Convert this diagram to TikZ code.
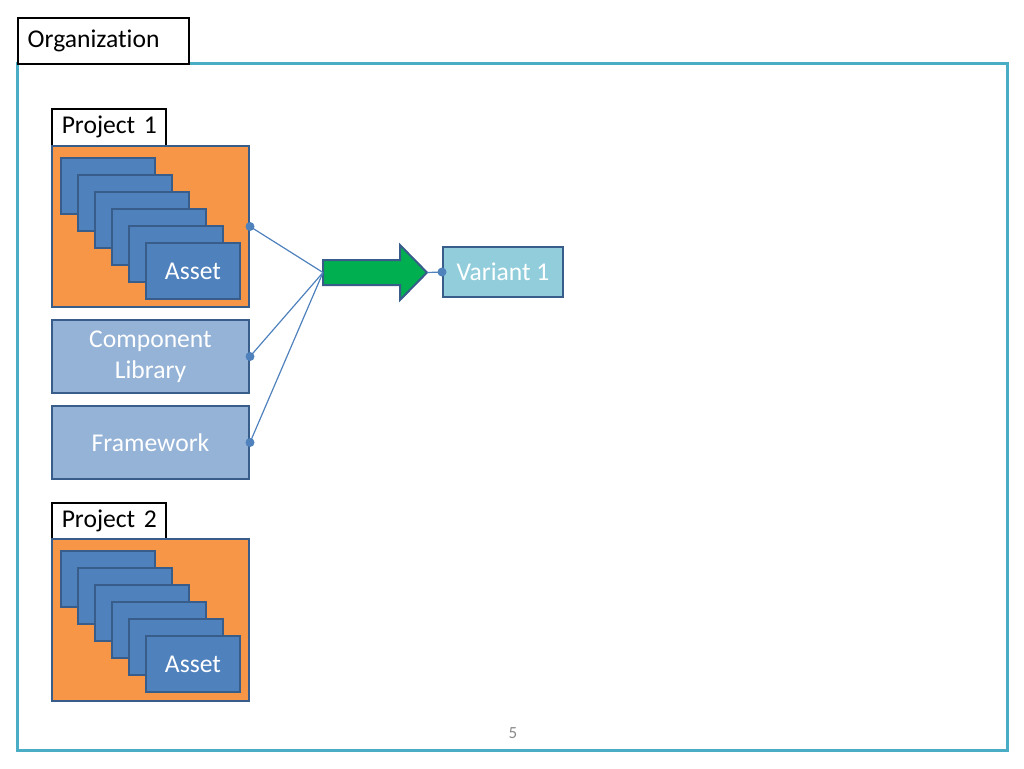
\documentclass[tikz,border=0pt]{standalone}
\usepackage{fontspec}
\setmainfont{Carlito}[Ligatures=NoCommon]
\definecolor{orgteal}{HTML}{4BACC6}
\definecolor{projorange}{HTML}{F79646}
\definecolor{assetblue}{HTML}{4F81BD}
\definecolor{edgeblue}{HTML}{385D8A}
\definecolor{libblue}{HTML}{95B3D7}
\definecolor{varteal}{HTML}{92CDDC}
\definecolor{flowgreen}{HTML}{00B050}
\definecolor{pagegray}{HTML}{898989}
\tikzset{
  tag/.style={draw=black, line width=0.75pt, fill=white, anchor=north west,
    align=left, inner xsep=5pt, inner ysep=0pt},
  project/.style={draw=edgeblue, line width=1pt, fill=projorange, anchor=north west,
    minimum width=98.5pt, minimum height=80.5pt},
  asset/.style={draw=edgeblue, line width=1pt, fill=assetblue, text=white, anchor=north west,
    minimum width=47pt, minimum height=28pt, inner sep=0pt},
  libbox/.style={draw=edgeblue, line width=1pt, fill=libblue, text=white, anchor=north west,
    minimum width=98.5pt, minimum height=36.5pt, align=center, inner sep=0pt},
  dot/.style={circle, fill=assetblue, inner sep=0pt, minimum size=4.5pt},
  link/.style={draw=assetblue, line width=0.6pt},
}
\begin{document}
\begin{tikzpicture}[x=0.5pt, y=-0.5pt, font=\fontsize{12.8}{15.4}\selectfont]
  \useasboundingbox (0,0) rectangle (1024,768);
  % Organization frame
  \draw[orgteal, line width=1.5pt] (17,63) rectangle (1007,750);
  \node[tag, text width=75.5pt, minimum height=23pt] (org) at (17,17) {\mbox{Organization}};
  % Project 1
  \node[tag, text width=47pt, minimum height=18.5pt] (tag1) at (51,108) {\mbox{Project 1}};
  \node[project] (proj1) at (51,145) {};
  \foreach \i in {0,...,4}
    \node[asset] at (60+17*\i,157+17*\i) {};
  \node[asset] (asset1) at (145,242) {Asset};
  % Library and framework
  \node[libbox] (lib) at (51,319) {Component\\Library};
  \node[libbox] (fw) at (51,405) {Framework};
  % Project 2
  \node[tag, text width=47pt, minimum height=18.5pt] (tag2) at (51,502) {\mbox{Project 2}};
  \node[project, minimum height=81pt] (proj2) at (51,538) {};
  \foreach \i in {0,...,4}
    \node[asset] at (60+17*\i,550+17*\i) {};
  \node[asset] (asset2) at (145,635) {Asset};
  % Build arrow and variant
  \draw[edgeblue, line width=1pt, fill=flowgreen, line join=miter]
    (323,260) -- (400,260) -- (400,245) -- (427,272.5) -- (400,300) -- (400,285) -- (323,285) -- cycle;
  \coordinate (buildtail) at (323,272.5);
  \coordinate (buildtip) at (427,272.5);
  \node[draw=edgeblue, line width=1pt, fill=varteal, text=white,
    minimum width=60pt, minimum height=25pt] (var1) at (503,272) {Variant 1};
  % Connectors
  \foreach \src in {proj1, lib, fw}
    \draw[link] (\src.east) -- (buildtail);
  \draw[link] (buildtip) -- (var1.west);
  \foreach \src in {proj1, lib, fw}
    \node[dot] at (\src.east) {};
  \node[dot] at (var1.west) {};
  % Page number
  \node[text=pagegray, font=\fontsize{8.5}{10}\selectfont] (pnum) at (513,733) {5};
\end{tikzpicture}
\end{document}
